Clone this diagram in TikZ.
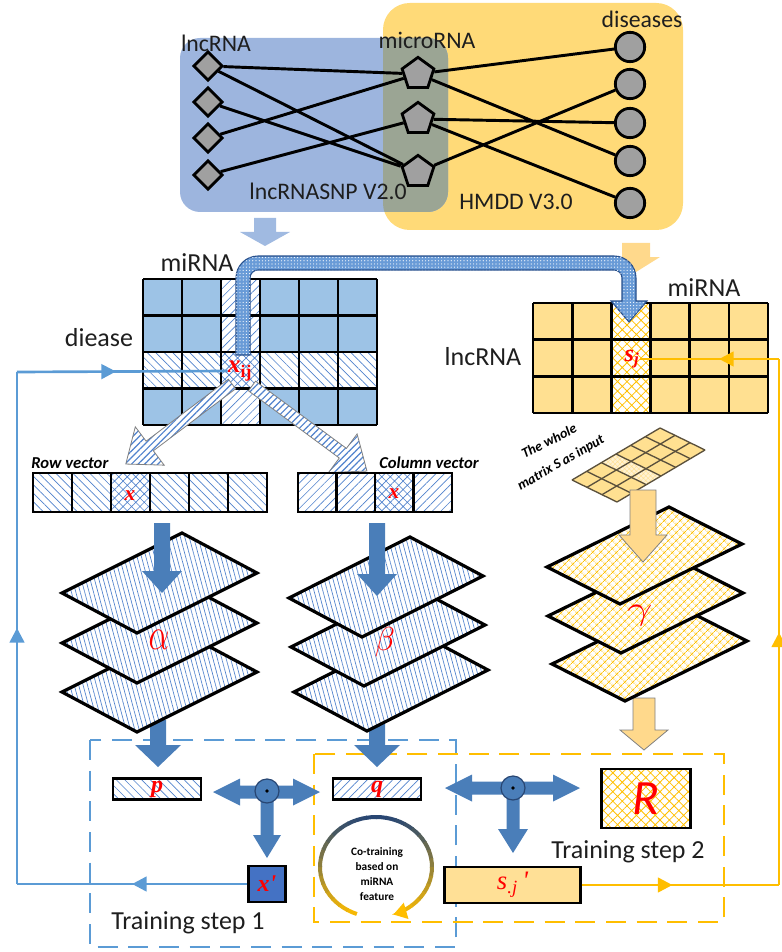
\documentclass[tikz,border=0pt]{standalone}
\usepackage{fontspec}
\setmainfont{Carlito}
\newfontfamily\tnr{Liberation Serif}
\usepackage{graphicx}
\usetikzlibrary{shapes.geometric,patterns.meta,arrows.meta,decorations.markings,calc}
\definecolor{boxblue}{RGB}{157,181,222}
\definecolor{boxyellow}{RGB}{255,218,120}
\definecolor{overlapc}{RGB}{155,165,148}
\definecolor{nodegray}{RGB}{160,160,160}
\definecolor{cellblue}{RGB}{157,195,230}
\definecolor{hatchblue}{RGB}{80,130,205}
\definecolor{cellyellow}{RGB}{255,224,145}
\definecolor{hatchyellow}{RGB}{255,192,0}
\definecolor{steel}{RGB}{74,126,185}
\definecolor{lineblue}{RGB}{91,155,213}
\definecolor{linegold}{RGB}{255,190,0}
\definecolor{paleblue}{RGB}{160,186,225}
\definecolor{paleyellow}{RGB}{255,217,140}
\definecolor{xboxc}{RGB}{68,114,196}
\definecolor{navyc}{RGB}{40,70,115}
\definecolor{curvefill}{RGB}{105,155,215}
\definecolor{curvedark}{RGB}{40,80,140}
\definecolor{sjboxc}{RGB}{255,224,150}
\definecolor{gridgray}{RGB}{90,80,60}
\definecolor{textdark}{RGB}{30,30,30}
\newcommand\fsz[1]{\fontsize{#1}{#1}\selectfont}
\newcommand\barrow[8][]{%
  \begin{scope}[shift={(#2,#3)},rotate=#4]
    \path[#1] (0,-#6) -- ({#5-#8},-#6) -- ({#5-#8},-#7) -- (#5,0) -- ({#5-#8},#7) -- ({#5-#8},#6) -- (0,#6) -- cycle;
  \end{scope}}
\newcommand\layer[7][]{\path[#1] (#2,#3) -- ++(#4,#5) -- ++(#6,#7) -- ++({-(#4)},{-(#5)}) -- cycle;}
\begin{document}
\begin{tikzpicture}[x=0.75pt,y=-0.75pt,
  lbl/.style={font=\fsz{17.8},inner sep=0,text=textdark},
  lbl2/.style={font=\fsz{19.5},inner sep=0,text=textdark},
  dia/.style={diamond,draw,fill=nodegray,line width=2.1pt,minimum width=22pt,minimum height=22pt,inner sep=0},
  pent/.style={regular polygon,regular polygon sides=5,draw,fill=nodegray,line width=2.1pt,minimum size=25pt,inner sep=0},
  dis/.style={circle,draw,fill=nodegray,line width=2.1pt,minimum size=22pt,inner sep=0},
  edge/.style={line width=2.2pt},
  gridl/.style={line width=2pt},
  hatchNE/.style={preaction={fill=white},pattern={Lines[angle=45,distance=4.5pt,line width=0.5pt]},pattern color=hatchblue},
  hatchNW/.style={preaction={fill=white},pattern={Lines[angle=-45,distance=4.5pt,line width=0.5pt]},pattern color=hatchblue},
  crossB/.style={preaction={fill=white},pattern={Hatch[angle=45,distance=4.5pt,line width=0.5pt]},pattern color=hatchblue},
  crossY/.style={preaction={fill=white},pattern={Hatch[angle=45,distance=5pt,line width=0.6pt]},pattern color=hatchyellow},
  layerB/.style={preaction={fill=white},pattern={Lines[angle=105,distance=3.2pt,line width=0.5pt]},pattern color=hatchblue,draw=black,line width=2.4pt},
  layerY/.style={preaction={fill=white},pattern={Hatch[angle=45,distance=4pt,line width=0.5pt]},pattern color=hatchyellow,draw=black,line width=2.4pt},
  harrow/.style={preaction={fill=white},pattern={Lines[angle=45,distance=3.5pt,line width=0.9pt]},pattern color=hatchblue,draw=gray,line width=0.6pt},
  sarrow/.style={fill=steel},
  yarrow/.style={fill=paleyellow,draw=gray,line width=0.6pt},
  curvestyle/.style={fill=curvefill,draw=curvedark,line width=0.8pt,postaction={pattern={Dots[distance=2.4pt,radius=0.45pt]},pattern color=white}},
  dashB/.style={draw=lineblue,line width=1.7pt,dash pattern=on 15pt off 8pt},
  dashY/.style={draw=linegold,line width=1.7pt,dash pattern=on 15pt off 8pt},
  fb/.style={line width=2pt},
  marr/.style={postaction={decorate,decoration={markings,mark=at position #1 with {\arrow{Triangle[length=11pt,width=11pt]}}}}},
  odot/.style={circle,draw=navyc,line width=0.9pt,fill=steel,minimum size=18pt,inner sep=0},
  vbox/.style={draw,line width=1.8pt,inner sep=0},
  red/.style={text=red}
]
\useasboundingbox (0,0) rectangle (781,952);
% ---------------- top databases
\path[fill=boxyellow,rounded corners=20pt] (383,3) rectangle (683,230);
\path[fill=boxblue,rounded corners=15pt] (180,38) rectangle (448,212);
\begin{scope}
  \clip[rounded corners=20pt] (383,3) rectangle (683,230);
  \fill[overlapc,rounded corners=15pt] (180,38) rectangle (448,212);
\end{scope}
\node[lbl] (tlnc) at (216,43) {lncRNA};
\node[lbl] (tmic) at (427,40) {microRNA};
\node[lbl] (tdis) at (642,19) {diseases};
\node[lbl] (tdb1) at (328,191) {lncRNASNP V2.0};
\node[lbl] (tdb2) at (516,202) {HMDD V3.0};
\node[dia] (l1) at (208,66) {};
\node[dia] (l2) at (208,102) {};
\node[dia] (l3) at (208,138) {};
\node[dia] (l4) at (208,175) {};
\node[pent] (m1) at (418,74) {};
\node[pent] (m2) at (418,119) {};
\node[pent] (m3) at (418,172) {};
\node[dis] (d1) at (630,47) {};
\node[dis] (d2) at (630,84) {};
\node[dis] (d3) at (630,123) {};
\node[dis] (d4) at (630,161) {};
\node[dis] (d5) at (630,203) {};
\draw[edge] (l1)--(m1) (l1)--(m3) (l2)--(m3) (l3)--(m1) (l4)--(m2)
            (m1)--(d1) (m1)--(d4) (m2)--(d3) (m2)--(d5) (m3)--(d2);
% pale arrows
\barrow[fill=paleblue]{265}{218}{-90}{28}{11}{25}{14}
\barrow[fill=paleyellow]{636}{243}{-90}{29}{14}{24}{15}
% ---------------- left matrix
\fill[cellblue] (143,279) rectangle (377,425);
\path[hatchNE] (221,279) rectangle (260,425);
\path[hatchNW] (143,352) rectangle (377,388.5);
\path[crossB] (221,352) rectangle (260,388.5);
\foreach \i in {0,...,6} \draw[gridl] ({143+39*\i},279) -- ({143+39*\i},425);
\foreach \j in {0,...,4} \draw[gridl] (143,{279+36.5*\j}) -- (377,{279+36.5*\j});
\node[lbl2] (lmi) at (197,263) {miRNA};
\node[lbl2] (ldi) at (99,338) {diease};
% ---------------- right matrix
\fill[cellyellow] (533,303) rectangle (768,413);
\path[crossY] (611.3,303) rectangle (650.5,413);
\foreach \i in {0,...,6} \draw[gridl] ({533+39.17*\i},303) -- ({533+39.17*\i},413);
\foreach \j in {0,...,3} \draw[gridl] (533,{303+36.67*\j}) -- (768,{303+36.67*\j});
\node[lbl2] (rlnc) at (483,357) {lncRNA};
\node[lbl2] (rmi) at (704,288) {miRNA};
% ---------------- curved arrow
\path[curvestyle] (236,355) -- (236,278) arc[start angle=180,end angle=270,radius=22] -- (614,256)
  arc[start angle=270,end angle=360,radius=22] -- (636,301) -- (647,301) -- (629,322) -- (611,301) -- (622,301)
  -- (622,278) arc[start angle=0,end angle=-90,radius=8] -- (258,270) arc[start angle=270,end angle=180,radius=8] -- (250,355) -- cycle;
\node[red,inner sep=0] (xij) at (240,371) {\tnr\bfseries\itshape\fsz{19}x\textsubscript{\upshape ij}};
\node[red,inner sep=0] (sj) at (632,359) {\tnr\bfseries\itshape\fsz{18}s\textsubscript{j}};
% hatched arrows
\barrow[harrow]{232}{384}{217}{133}{6}{24}{30}
\barrow[harrow]{252}{386}{-36.5}{143}{6}{24}{30}
% ---------------- row and column vectors
\path[hatchNW] (33,473) rectangle (267,512);
\path[crossB] (111,473) rectangle (150,512);
\draw[gridl] (33,473) rectangle (267,512);
\foreach \i in {1,...,5} \draw[gridl] ({33+39*\i},473) -- ({33+39*\i},512);
\node[red,inner sep=0] (xr) at (130,496) {\tnr\bfseries\itshape\fsz{16}x};
\node[anchor=west,inner sep=0,font=\bfseries\itshape\fsz{12.5}] (trv) at (31,463) {Row vector};
\path[hatchNE] (298,473) rectangle (452,512);
\path[crossB] (375,473) rectangle (413.5,512);
\draw[gridl] (298,473) rectangle (452,512);
\foreach \i in {1,...,3} \draw[gridl] ({298+38.5*\i},473) -- ({298+38.5*\i},512);
\node[red,inner sep=0] (xc) at (394,494) {\tnr\bfseries\itshape\fsz{16}x};
\node[anchor=west,inner sep=0,font=\bfseries\itshape\fsz{12.5}] (tcv) at (379,463) {Column vector};
% ---------------- dashed training boxes
\draw[dashB] (90,740) rectangle (456,947);
\draw[dashY] (314,754) rectangle (724,922);
% ---------------- stacks
\barrow[sarrow]{158}{720}{-90}{47}{8}{23}{22}
\barrow[sarrow]{377}{720}{-90}{47}{8}{23}{22}
\barrow[yarrow]{644}{698}{-90}{52}{11}{24}{20}
\layer[layerB]{62}{692}{120}{-60}{75}{40}
\layer[layerB]{62}{643}{120}{-60}{75}{40}
\layer[layerB]{62}{593}{120}{-60}{75}{40}
\layer[layerB]{294}{692}{121}{-61}{73}{39}
\layer[layerB]{291}{647}{121}{-61}{73}{39}
\layer[layerB]{289}{598}{121}{-61}{73}{39}
\layer[layerY]{552}{664}{122}{-60}{73}{37}
\layer[layerY]{548}{616}{122}{-60}{73}{37}
\layer[layerY]{547}{567}{122}{-60}{73}{37}
\barrow[sarrow]{162}{523}{-90}{70}{8}{20}{22}
\barrow[sarrow]{377}{523}{-90}{73}{8}{20}{22}
\node[red,inner sep=0] (alpha) at (159,640) {\fsz{34}\scalebox{1}[1.35]{$\alpha$}};
\node[red,inner sep=0] (beta) at (385,642) {\fsz{40}$\beta$};
\node[red,inner sep=0] (gamma) at (640,616) {\fsz{34}\scalebox{1.35}[1]{$\gamma$}};
% ---------------- small matrix
\path[fill=cellyellow] (572,480) -- ++(88,-52) -- ++(45,22) -- ++(-88,52) -- cycle;
\path[fill=white,opacity=0.6] (601.33,462.67) -- (616,454) -- (661,476) -- (646.33,484.67) -- cycle;
\path[pattern={Hatch[angle=45,distance=2.5pt,line width=0.3pt]},pattern color=cellyellow] (601.33,462.67) -- (616,454) -- (661,476) -- (646.33,484.67) -- cycle;
\foreach \k in {0,...,6} \draw[gridgray,line width=1pt] ($(572,480)+\k*(14.667,-8.667)$) -- ++(45,22);
\foreach \k in {0,...,3} \draw[gridgray,line width=1pt] ($(572,480)+\k*(15,7.333)$) -- ++(88,-52);
\node[rotate=27,inner sep=0,font=\bfseries\itshape\fsz{10.5}] (twm1) at (549,441) {The whole};
\node[rotate=30,inner sep=0,font=\bfseries\itshape\fsz{10.5}] (twm2) at (561,463) {matrix S as input};
\barrow[yarrow]{643}{490}{-90}{72}{13}{24}{27}
% ---------------- bottom part
\node[vbox,hatchNW,minimum width=66pt,minimum height=16pt] (p) at (157,789) {\tnr\bfseries\itshape\fsz{18}\textcolor{red}{p}};
\node[vbox,hatchNE,minimum width=66pt,minimum height=16pt] (q) at (377,789) {\tnr\bfseries\itshape\fsz{18}\textcolor{red}{q}};
\node[vbox,crossY,minimum width=67pt,minimum height=44pt] (R) at (646,798.5) {\itshape\fsz{37}\textcolor{red}{R}};
\node[vbox,fill=xboxc,minimum width=28pt,minimum height=27pt] (xp) at (267,884) {\tnr\bfseries\itshape\fsz{18}\textcolor{red}{x'}};
\node[vbox,fill=sjboxc,minimum width=102pt,minimum height=27pt] (sjp) at (512.5,885) {\tnr\itshape\fsz{20}\textcolor{red}{s\textsubscript{.j}\,'}};
% T arrows
\path[sarrow] (213,792) -- (240,778.5) -- (240,785.5) -- (293,785.5) -- (293,778.5) -- (320,792) -- (293,805.5) -- (293,798.5)
  -- (273.5,798.5) -- (273.5,835) -- (281,835) -- (267,858) -- (253,835) -- (260.5,835) -- (260.5,798.5) -- (240,798.5) -- (240,805.5) -- cycle;
\path[sarrow] (445,788) -- (472,774.5) -- (472,781.5) -- (553,781.5) -- (553,774.5) -- (580,788) -- (553,801.5) -- (553,794.5)
  -- (519.5,794.5) -- (519.5,829) -- (528,829) -- (513,853) -- (498,829) -- (506.5,829) -- (506.5,794.5) -- (472,794.5) -- (472,801.5) -- cycle;
\node[odot] (o1) at (267,791) {};
\fill (o1.center) circle (1.8);
\node[odot] (o2) at (513,788) {};
\fill (o2.center) circle (1.8);
% co-training loop
\foreach \a in {110,120,...,410}{
  \pgfmathsetmacro\pp{50+50*sin(\a+5)}
  \draw[line width=3pt,color=linegold!\pp!navyc] ([shift={(\a:56 and 50)}]376,867) arc[start angle=\a,end angle=\a+11,x radius=56,y radius=50];
}
\draw[line width=3pt,linegold,-{Triangle[length=10pt,width=12pt]}] ([shift={(420:56 and 50)}]376,867) arc[start angle=420,end angle=432,x radius=56,y radius=50];
\node[align=center,inner sep=0,font=\bfseries\fontsize{8.5}{11.3}\selectfont] (cot) at (377,874) {Co-training\\based on\\miRNA\\feature};
\node[lbl2] (ts1) at (188,923) {Training step 1};
\node[lbl2] (ts2) at (628,852) {Training step 2};
% ---------------- feedback lines
\coordinate (cb1) at (17,884);
\coordinate (cb2) at (17,372);
\coordinate (cy1) at (779,885);
\coordinate (cy2) at (779,359);
\draw[fb,lineblue,marr=0.5] (xp.west) -- (cb1);
\draw[fb,lineblue,marr=0.5] (cb1) -- (cb2);
\draw[fb,lineblue,marr=0.47] (cb2) -- (xij.west);
\draw[fb,linegold,marr=0.46] (sjp.east) -- (cy1);
\draw[fb,linegold,marr=0.48] (cy1) -- (cy2);
\draw[fb,linegold,marr=0.43] (cy2) -- (sj.east);
\end{tikzpicture}
\end{document}
